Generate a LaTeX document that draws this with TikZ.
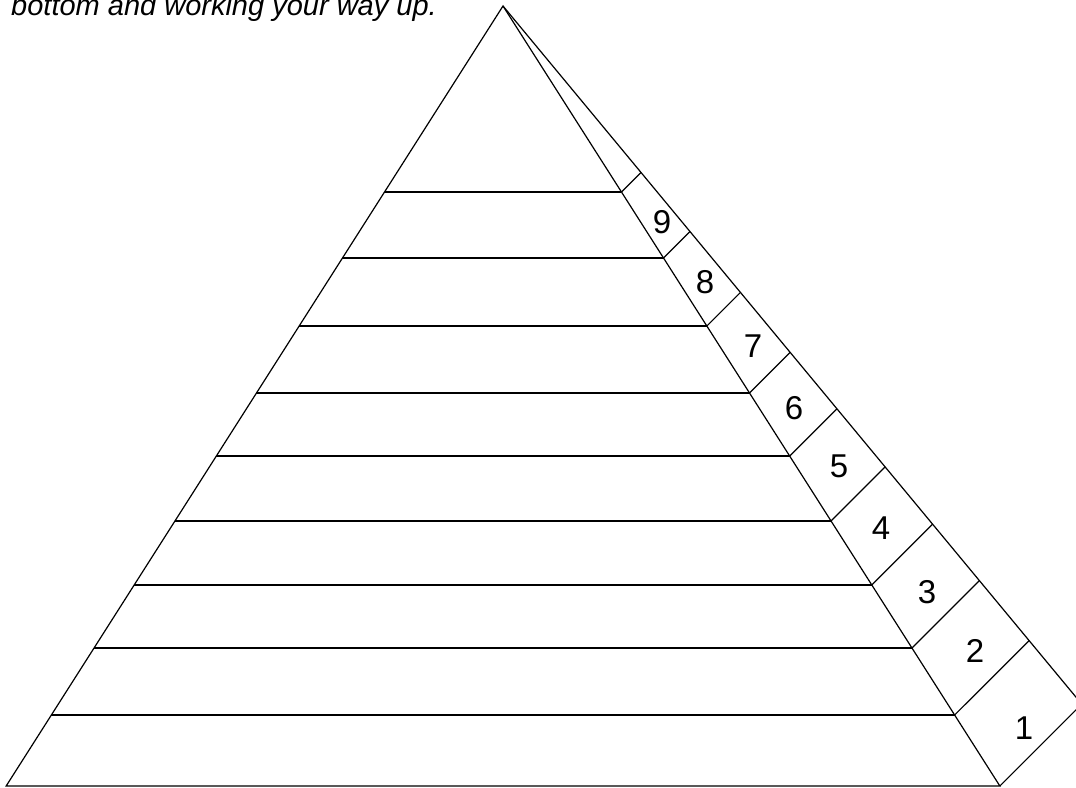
\documentclass[tikz,border=0pt]{standalone}
\usepackage{fontspec}
\setmainfont{Liberation Sans}
\begin{document}
\begin{tikzpicture}[x=1pt,y=-1pt,
  edge/.style={line width=1.2pt, line join=miter},
  numlabel/.style={font=\fontsize{33}{33}\selectfont, inner sep=0pt},
  headtext/.style={font=\fontsize{29}{29}\selectfont\itshape, inner sep=0pt, anchor=base west}]
\useasboundingbox (0,0) rectangle (1076,787);
\clip (0,0) rectangle (1076,787);
\coordinate (A) at (503,6);
\foreach \yy [count=\i] in {192,258,326,393,456,521,585,648,715,786} {
  \pgfmathsetmacro\uu{\yy-6}
  \coordinate (L\i) at ({503-0.637*\uu},\yy);
  \coordinate (R\i) at ({503+0.637*\uu},\yy);
  \coordinate (O\i) at ({503+0.742*\uu},{\yy-0.105*\uu});
}
% pyramid outline
\draw[edge] (A) -- (L10) -- (R10) -- cycle;
% outer edge of the number strip
\draw[edge] (A) -- (O10);
% horizontal layers
\foreach \i in {1,...,9} { \draw[edge] (L\i) -- (R\i); }
% strip dividers
\foreach \i in {1,...,10} { \draw[edge] (R\i) -- (O\i); }
% numbers
\node[numlabel] (n9) at (662,222) {9};
\node[numlabel] (n8) at (705,282) {8};
\node[numlabel] (n7) at (753,346) {7};
\node[numlabel] (n6) at (794,408) {6};
\node[numlabel] (n5) at (839,466) {5};
\node[numlabel] (n4) at (881,528) {4};
\node[numlabel] (n3) at (927,592) {3};
\node[numlabel] (n2) at (975,651) {2};
\node[numlabel] (n1) at (1024,728) {1};
% heading text (cut off at top, as in the reference)
\node[headtext] (head) at (11,15) {bottom and working your way up.};
\end{tikzpicture}
\end{document}
